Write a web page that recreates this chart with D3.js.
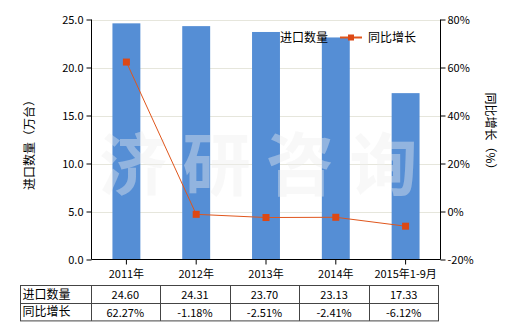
<!DOCTYPE html>
<html>
<head>
<meta charset="utf-8">
<script src="https://cdn.jsdelivr.net/npm/d3@7"></script>
<style>
body { margin: 0; background: #fff; }
text { font-family: "Noto Sans CJK SC", "DejaVu Sans", sans-serif; fill: #000; }
</style>
</head>
<body>
<script>
var categories = ["2011年", "2012年", "2013年", "2014年", "2015年1-9月"];
var importQty = [24.60, 24.31, 23.70, 23.13, 17.33];
var growth = [62.27, -1.18, -2.51, -2.41, -6.12];
var leftTicks = [0, 5, 10, 15, 20, 25];
var rightTicks = [-20, 0, 20, 40, 60, 80];
var watermark = ["济", "研", "咨", "询"];

var w = 520, h = 330;
var pLeft = 91.5, pRight = 440.5, pTop = 19.5, pBottom = 259.5;

var svg = d3.select("body").append("svg")
    .attr("width", w)
    .attr("height", h);

var x = d3.scaleBand().domain(categories).range([pLeft, pRight]).paddingInner(0.6).paddingOuter(0.3);
var yL = d3.scaleLinear().domain([0, 25]).range([pBottom, pTop]);
var yR = d3.scaleLinear().domain([-20, 80]).range([pBottom, pTop]);

// grid lines
svg.selectAll(".grid")
    .data(leftTicks.slice(1))
    .enter().append("line")
    .attr("x1", pLeft)
    .attr("x2", pRight)
    .attr("y1", function(d) { return Math.round(yL(d)) + 0.5; })
    .attr("y2", function(d) { return Math.round(yL(d)) + 0.5; })
    .attr("stroke", "#e6e6dc")
    .attr("stroke-width", 1);

// bars
svg.selectAll(".bar")
    .data(importQty)
    .enter().append("rect")
    .attr("x", function(d, i) { return x(categories[i]); })
    .attr("y", function(d) { return yL(d); })
    .attr("width", x.bandwidth())
    .attr("height", function(d) { return yL(0) - yL(d); })
    .attr("fill", "#558ed5");

// watermark
svg.selectAll(".wm")
    .data(watermark)
    .enter().append("text")
    .attr("x", function(d, i) { return 133 + i * 83.5; })
    .attr("y", 190)
    .attr("text-anchor", "middle")
    .style("font-size", "68px")
    .style("font-weight", "bold")
    .style("fill", "#eeeeee")
    .style("fill-opacity", 0.4)
    .text(function(d) { return d; });

// line
var cx = function(d, i) { return x(categories[i]) + x.bandwidth() / 2; };
var line = d3.line()
    .x(function(d, i) { return cx(d, i); })
    .y(function(d) { return yR(d); });

svg.append("path")
    .datum(growth)
    .attr("d", line)
    .attr("fill", "none")
    .attr("stroke", "#e0561c")
    .attr("stroke-width", 1);

svg.selectAll(".pt")
    .data(growth)
    .enter().append("rect")
    .attr("x", function(d, i) { return cx(d, i) - 3.5; })
    .attr("y", function(d) { return yR(d) - 3.5; })
    .attr("width", 7)
    .attr("height", 7)
    .attr("fill", "#dd4814");

// axes
var axisL = svg.append("g")
    .attr("transform", "translate(" + pLeft + ",0)")
    .call(d3.axisLeft(yL).tickValues(leftTicks).tickSize(5).tickPadding(3).tickFormat(d3.format(".1f")));
var axisR = svg.append("g")
    .attr("transform", "translate(" + pRight + ",0)")
    .call(d3.axisRight(yR).tickValues(rightTicks).tickSize(5).tickPadding(2).tickFormat(function(d) { return d + "%"; }));
var axisB = svg.append("g")
    .attr("transform", "translate(0," + pBottom + ")")
    .call(d3.axisBottom(x).tickSize(5).tickPadding(6));

[axisL, axisR, axisB].forEach(function(a) {
    a.select(".domain").attr("stroke", "#000");
    a.selectAll(".tick line").attr("stroke", "#000");
    a.selectAll("text").style("font-size", "11px").style("font-family", "\"Noto Sans CJK SC\", sans-serif").attr("fill", "#000");
});
axisB.select(".domain").attr("d", "M" + pLeft + ",0H" + pRight);
axisL.select(".domain").attr("d", "M0," + pTop + "V" + pBottom);
axisR.select(".domain").attr("d", "M0," + pTop + "V" + pBottom);

// axis titles
svg.append("text")
    .attr("transform", "translate(30,142) rotate(-90)")
    .attr("text-anchor", "middle")
    .attr("dy", "0.35em")
    .style("font-size", "12px")
    .text("进口数量（万台）");

svg.append("text")
    .attr("transform", "translate(490,134) rotate(90)")
    .attr("text-anchor", "middle")
    .attr("dy", "0.35em")
    .style("font-size", "12px")
    .text("同比增长（%）");

// legend
svg.append("rect")
    .attr("x", 265).attr("y", 32).attr("width", 12).attr("height", 12)
    .attr("fill", "#558ed5");
svg.append("text")
    .attr("x", 280).attr("y", 38).attr("dy", "0.35em")
    .style("font-size", "12px")
    .text("进口数量");
svg.append("line")
    .attr("x1", 340).attr("x2", 362).attr("y1", 37.5).attr("y2", 37.5)
    .attr("stroke", "#e0561c").attr("stroke-width", 2);
svg.append("rect")
    .attr("x", 348).attr("y", 34.5).attr("width", 6).attr("height", 6)
    .attr("fill", "#dd4814");
svg.append("text")
    .attr("x", 368).attr("y", 38).attr("dy", "0.35em")
    .style("font-size", "12px")
    .text("同比增长");

// data table
var rows = [
    { label: "进口数量", values: importQty.map(function(d) { return d.toFixed(2); }) },
    { label: "同比增长", values: growth.map(function(d) { return d.toFixed(2) + "%"; }) }
];
var tLeft = 20.5, tFirst = 90.5, tRight = 438.5, tTop = 285.5, rowH = 17.7;
var colW = (tRight - tFirst) / categories.length;
var table = svg.append("g");

table.append("rect")
    .attr("x", tLeft).attr("y", tTop)
    .attr("width", tRight - tLeft).attr("height", rowH * 2)
    .attr("fill", "none").attr("stroke", "#444");
table.append("line")
    .attr("x1", tLeft).attr("x2", tRight)
    .attr("y1", Math.round(tTop + rowH) + 0.5).attr("y2", Math.round(tTop + rowH) + 0.5)
    .attr("stroke", "#444");
d3.range(categories.length).forEach(function(i) {
    var xx = Math.round(tFirst + i * colW) + 0.5;
    table.append("line")
        .attr("x1", xx).attr("x2", xx)
        .attr("y1", tTop).attr("y2", tTop + rowH * 2)
        .attr("stroke", "#444");
});
rows.forEach(function(r, ri) {
    var yy = tTop + rowH * ri + rowH / 2;
    table.append("text")
        .attr("x", tLeft + 2).attr("y", yy).attr("dy", "0.35em")
        .style("font-size", "12px")
        .text(r.label);
    table.selectAll(".v" + ri)
        .data(r.values)
        .enter().append("text")
        .attr("x", function(d, i) { return tFirst + colW * i + colW / 2; })
        .attr("y", yy + 1).attr("dy", "0.35em")
        .attr("text-anchor", "middle")
        .style("font-size", "11px")
        .text(function(d) { return d; });
});
</script>
</body>
</html>
